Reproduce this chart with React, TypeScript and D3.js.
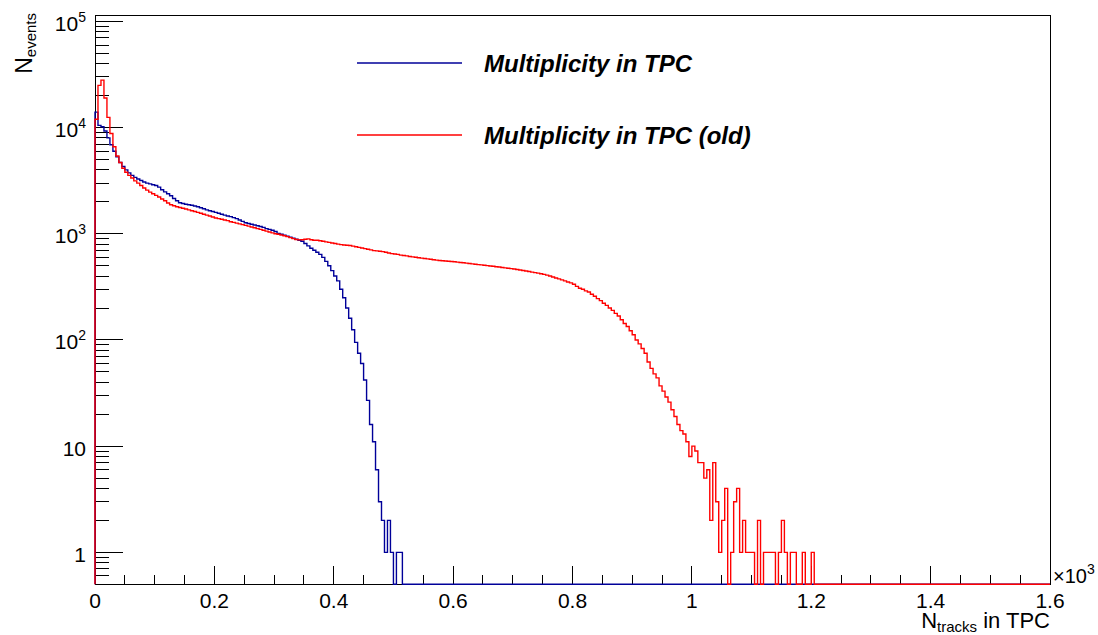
import React from "react";
import * as d3 from "d3";

// ---- data (bin width 5 tracks, range 0..1600) ----
const binWidth = 5;
const xMin = 0;
const xMax = 1600;
const yMin = 0.5;
const yMax = 1.15e5;

const blueCounts = [
  14000, 10500, 10200, 9300, 8000, 6900, 6000, 5300, 4700, 4300,
  4000, 3750, 3550, 3400, 3280, 3180, 3080, 3000, 2950, 2900,
  2850, 2750, 2600, 2480, 2380, 2280, 2150, 2050, 1960, 1930,
  1900, 1880, 1860, 1830, 1800, 1760, 1720, 1680, 1650, 1620,
  1590, 1560, 1530, 1500, 1470, 1450, 1420, 1390, 1350, 1310,
  1270, 1250, 1230, 1210, 1190, 1170, 1150, 1120, 1100, 1080,
  1050, 1010, 990, 970, 950, 930, 910, 890, 870, 850,
  810, 770, 730, 700, 670, 640, 600, 550, 500, 450,
  400, 360, 300, 250, 200, 160, 125, 95, 75, 60,
  42, 27, 16, 11, 6, 3, 2, 1, 2, 1,
  0, 1, 1, 0,
];

const redCounts = [
  12000, 25000, 28000, 19000, 12500, 8800, 6600, 5400, 4700, 4150,
  3800, 3550, 3350, 3150, 3000, 2850, 2700, 2580, 2470, 2380,
  2300, 2220, 2130, 2050, 1950, 1880, 1840, 1800, 1770, 1740,
  1710, 1680, 1650, 1620, 1590, 1560, 1530, 1500, 1470, 1440,
  1410, 1390, 1370, 1350, 1330, 1300, 1280, 1260, 1240, 1220,
  1200, 1180, 1160, 1140, 1120, 1100, 1080, 1060, 1040, 1020,
  1000, 990, 975, 960, 940, 920, 900, 885, 876, 880,
  890, 895, 880, 870, 870, 860, 850, 840, 830, 820,
  810, 800, 790, 785, 780, 775, 765, 755, 745, 735,
  725, 715, 705, 695, 690, 685, 679, 670, 660, 650,
  645, 640, 630, 625, 620, 612, 606, 601, 595, 590,
  585, 580, 575, 570, 565, 560, 558, 555, 552, 549,
  545, 541, 537, 533, 529, 525, 521, 517, 513, 510,
  506, 502, 498, 494, 490, 486, 482, 478, 474, 470,
  466, 461, 456, 451, 446, 441, 436, 431, 426, 421,
  415, 408, 400, 392, 384, 376, 368, 360, 352, 345,
  335, 320, 307, 300, 290, 283, 270, 258, 245, 235,
  222, 212, 200, 190, 178, 168, 155, 143, 134, 122,
  112, 100, 92, 83, 75, 62, 54, 48, 44, 37,
  33, 29, 26, 22, 19, 16, 14, 13, 11, 8,
  10, 9, 7, 7, 5, 6, 2, 7, 3, 1,
  2, 4, 0, 1, 3, 4, 1, 2, 1, 1,
  1, 0, 2, 0, 1, 1, 1, 1, 0, 1,
  2, 1, 0, 1, 1, 0, 0, 1, 0, 0,
  1,
];

const xMajorValues = [0, 200, 400, 600, 800, 1000, 1200, 1400, 1600];
const xMajorLabels = ["0", "0.2", "0.4", "0.6", "0.8", "1", "1.2", "1.4", "1.6"];
const xMinorStep = 50;

const yMajorValues = [1, 10, 100, 1000, 10000, 100000];
const yLabelBase = ["1", "10", "10", "10", "10", "10"];
const yLabelExp = ["", "", "2", "3", "4", "5"];

const seriesNames = ["Multiplicity in TPC", "Multiplicity in TPC (old)"];
const seriesColors = ["#000099", "#ff0000"];

// ---- layout ----
const W = 1098;
const H = 635;
const L = 95;
const R = 1050;
const T = 15;
const B = 584.3;
const FONT = "'Liberation Sans', Arial, Helvetica, sans-serif";

const nBins = (xMax - xMin) / binWidth;
function pad(arr: number[]) {
  const out = arr.slice();
  while (out.length < nBins) out.push(0);
  return out;
}

export default function App() {
  const x = d3.scaleLinear().domain([xMin, xMax]).range([L, R]);
  const y = d3.scaleLog().domain([yMin, yMax]).range([B, T]);

  const histPath = (counts: number[]) => {
    const full = pad(counts);
    let d = `M${x(xMin)},${y(yMin)}`;
    full.forEach((c, i) => {
      const v = Math.max(c, yMin);
      d += `V${y(v).toFixed(2)}H${x(xMin + (i + 1) * binWidth).toFixed(2)}`;
    });
    return d;
  };

  const xMinor: number[] = [];
  for (let v = xMin; v <= xMax; v += xMinorStep) {
    if (v % 200 !== 0) xMinor.push(v);
  }
  const yMinor = y.ticks(50).filter(
    (v) => !yMajorValues.some((m) => Math.abs(m - v) / m < 1e-6) && v >= yMin && v <= yMax
  );

  const legend = [
    { name: seriesNames[0], color: seriesColors[0], ly: 63 },
    { name: seriesNames[1], color: seriesColors[1], ly: 135 },
  ];

  return (
    <svg
      width={W}
      height={H}
      style={{ position: "absolute", left: 0, top: 0, background: "#fff" }}
      fontFamily={FONT}
    >
      <defs>
        <clipPath id="frame">
          <rect x={L - 1} y={T} width={R - L + 1} height={B - T + 1.5} />
        </clipPath>
      </defs>
      <rect x={0} y={0} width={W} height={H} fill="#fff" />

      {/* frame */}
      <rect
        x={L}
        y={T}
        width={R - L}
        height={B - T}
        fill="none"
        stroke="#000"
        strokeWidth={1}
        shapeRendering="crispEdges"
      />

      {/* ticks */}
      <g stroke="#000" strokeWidth={1} shapeRendering="crispEdges">
        {xMajorValues.map((v) => (
          <line key={"xM" + v} x1={x(v)} x2={x(v)} y1={B} y2={B - 18} />
        ))}
        {xMinor.map((v) => (
          <line key={"xm" + v} x1={x(v)} x2={x(v)} y1={B} y2={B - 9} />
        ))}
        {yMajorValues.map((v) => (
          <line key={"yM" + v} x1={L} x2={L + 28} y1={y(v)} y2={y(v)} />
        ))}
        {yMinor.map((v) => (
          <line key={"ym" + v} x1={L} x2={L + 14} y1={y(v)} y2={y(v)} />
        ))}
      </g>

      {/* histograms drawn over the frame */}
      <g clipPath="url(#frame)" fill="none" strokeWidth={1.4}>
        <path d={histPath(blueCounts)} stroke={seriesColors[0]} />
        <path d={histPath(redCounts)} stroke={seriesColors[1]} />
      </g>

      {/* x labels */}
      <g fontSize={21} fill="#000" textAnchor="middle">
        {xMajorValues.map((v, i) => (
          <text key={"xl" + v} x={x(v)} y={B + 23.5}>
            {xMajorLabels[i]}
          </text>
        ))}
      </g>

      {/* y labels */}
      <g fontSize={21} fill="#000" textAnchor="end">
        {yMajorValues.map((v, i) => (
          <text key={"yl" + v} x={86} y={y(v) + 9.5}>
            {yLabelBase[i]}
            {yLabelExp[i] ? (
              <tspan fontSize={14} dy={-9}>
                {yLabelExp[i]}
              </tspan>
            ) : null}
          </text>
        ))}
      </g>

      {/* x10^3 */}
      <text x={1053} y={583} fontSize={20} fill="#000">
        ×10
        <tspan fontSize={14} dy={-9}>
          3
        </tspan>
      </text>

      {/* axis titles */}
      <text x={R} y={628} fontSize={22} textAnchor="end" fill="#000">
        N
        <tspan fontSize={15} dy={4}>
          tracks
        </tspan>
        <tspan dy={-4}> in TPC</tspan>
      </text>
      <text
        transform="translate(32,13) rotate(-90)"
        fontSize={23}
        textAnchor="end"
        fill="#000"
      >
        N
        <tspan fontSize={15} dy={4}>
          events
        </tspan>
      </text>

      {/* legend */}
      {legend.map((e) => (
        <g key={e.name}>
          <line x1={357} x2={462} y1={e.ly} y2={e.ly} stroke={e.color} strokeWidth={1.4} />
          <text
            x={484}
            y={e.ly + 8.5}
            fontSize={24}
            fontWeight="bold"
            fontStyle="italic"
            fill="#000"
          >
            {e.name}
          </text>
        </g>
      ))}
    </svg>
  );
}
